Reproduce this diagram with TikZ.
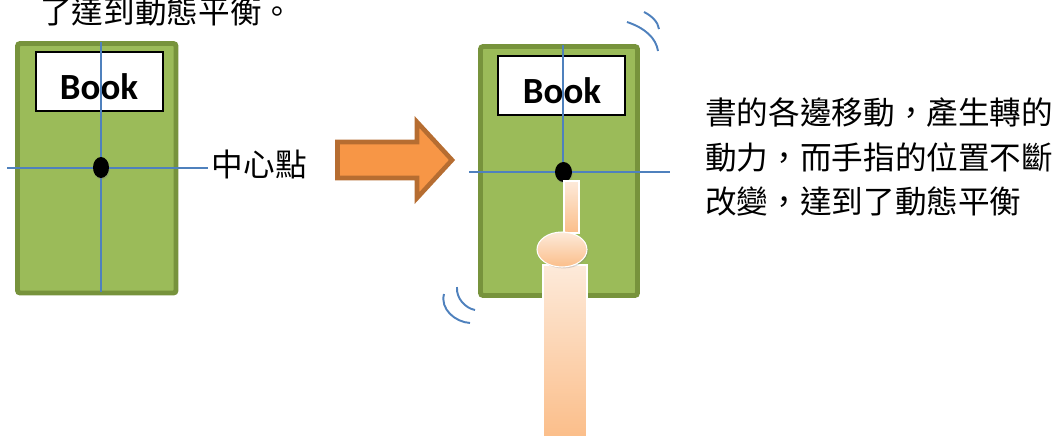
\documentclass[tikz,border=0pt]{standalone}
\usepackage{fontspec}
\setmainfont{Carlito}
\newfontfamily\cjk{Noto Sans CJK TC}
\usepackage{xcolor}
\usepackage{tikz}
\usetikzlibrary{positioning}
\usetikzlibrary{shadows}
\definecolor{bookgreen}{HTML}{9BBB59}
\definecolor{bookedge}{HTML}{77933C}
\definecolor{axisblue}{HTML}{4F81BD}
\definecolor{arroworange}{HTML}{F79646}
\definecolor{arrowedge}{HTML}{B66D31}
\definecolor{skintop}{HTML}{FDEADA}
\definecolor{skinbot}{HTML}{FBBE8A}

\begin{document}
\begin{tikzpicture}[x=0.02cm,y=-0.02cm,
  book/.style={draw=bookedge,fill=bookgreen,line width=2.8pt,rounded corners=1.5pt},
  titlebox/.style={draw=black,fill=white,line width=0.6pt},
  booktext/.style={font=\bfseries\fontsize{21}{22}\selectfont},
  centreline/.style={draw=axisblue,line width=1.1pt},
  pivot/.style={fill=black,drop shadow={opacity=0.35,shadow xshift=0.4pt,shadow yshift=-0.8pt}},
  fatarrow/.style={draw=arrowedge,fill=arroworange,line width=2.6pt},
  finger/.style={top color=skintop,bottom color=skinbot,draw=white,line width=0.6pt,
    drop shadow={opacity=0.3,shadow xshift=0.8pt,shadow yshift=-0.8pt}},
  wave/.style={draw=axisblue,line width=1.1pt},
  cjktext/.style={font=\cjk\fontsize{18}{25.5}\selectfont,inner sep=0pt}]
\useasboundingbox (0,0) rectangle (1062,441);

\node[cjktext,anchor=west] (intro) at (40,11) {了達到動態平衡。};

% book at rest
\draw[book] (17.5,43.5) rectangle (176,293);
\draw[titlebox] (36,52) rectangle (163,111);
\node[booktext] (titleL) at (99,87) {Book};
\coordinate (topL) at (101,42);
\coordinate (botL) at (101,292);
\coordinate (leftL) at (7,168);
\coordinate (rightL) at (208,168);
\draw[centreline] (topL) -- (botL);
\draw[centreline] (leftL) -- (rightL);
\fill[pivot] (101,167.5) ellipse [x radius=8,y radius=10.5];
\node[cjktext,anchor=west,right=2pt of rightL,yshift=2pt] (centre) {中心點};

\draw[fatarrow] (337.5,142) -- (417,142) -- (417,122) -- (452,160) -- (417,198) -- (417,178) -- (337.5,178) -- cycle;

% book balanced on a finger
\draw[book] (480.5,46.5) rectangle (637.5,295.5);
\draw[titlebox] (498,56) rectangle (625,115);
\node[booktext] (titleR) at (562,91) {Book};
\coordinate (topR) at (563,45);
\coordinate (botR) at (563,182);
\coordinate (leftR) at (469,172);
\coordinate (rightR) at (670,172);
\draw[centreline] (topR) -- (botR);
\draw[centreline] (leftR) -- (rightR);
\fill[pivot] (563.5,172) ellipse [x radius=8.5,y radius=10];

\draw[finger] (564,181) rectangle (579,233);
\draw[finger] (543,265) rectangle (587,437);
\draw[finger] (562,249.5) ellipse [x radius=25,y radius=17.5];

\draw[wave] (644,12) .. controls (652,16) and (658,22) .. (659,29);
\draw[wave] (627,22) .. controls (645,28) and (656,38) .. (658,51);
\draw[wave] (457,287) .. controls (456,298) and (465,308) .. (475,310);
\draw[wave] (444,294) .. controls (440,309) and (455,322) .. (470,323);

\node[cjktext,anchor=north west,align=left] (note) at (705,97)
  {書的各邊移動，產生轉的\\動力，而手指的位置不斷\\改變，達到了動態平衡};
\end{tikzpicture}
\end{document}
